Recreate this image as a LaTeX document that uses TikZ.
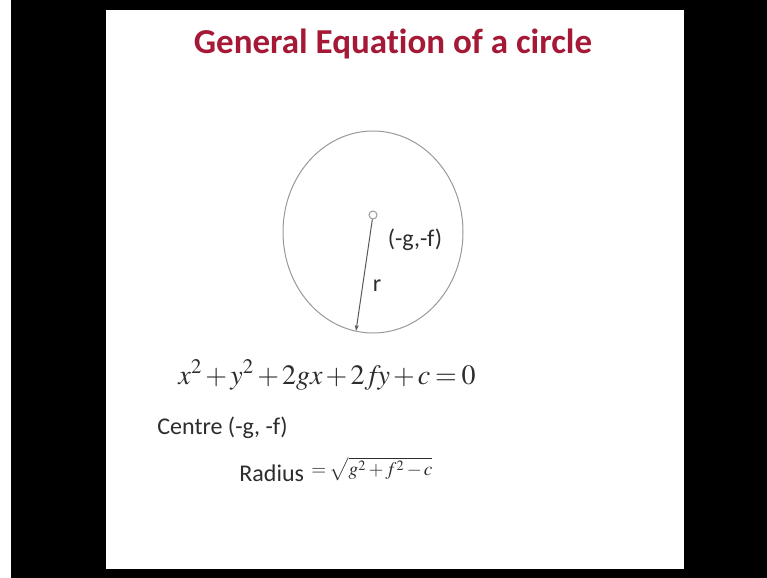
\documentclass[tikz,border=0pt]{standalone}
\usepackage{fontspec}
\usepackage{mathptmx}
\setmainfont{Carlito}[Ligatures=NoCommon]
\usetikzlibrary{arrows.meta}
\definecolor{TitleRed}{RGB}{165,25,55}
\definecolor{SlideInk}{RGB}{45,45,45}
\newcommand{\tightmath}{\medmuskip=2mu\relax\thickmuskip=3mu\relax}

\begin{document}
\begin{tikzpicture}[
  x=0.5pt, y=-0.5pt,
  >=Stealth,
  title/.style={font=\bfseries\fontsize{17.5}{20}\selectfont, text=TitleRed, inner sep=0pt},
  lbl/.style={font=\fontsize{12}{14}\selectfont, text=SlideInk, inner sep=0pt},
  eqn/.style={font=\fontsize{14}{16}\selectfont, text=SlideInk, inner sep=0pt},
  small eqn/.style={font=\fontsize{9.6}{11}\selectfont, text=SlideInk, inner sep=0pt},
  rim/.style={draw=gray!80, line width=0.5pt},
  dot/.style={circle, draw=gray!80, fill=white, line width=0.5pt, minimum size=4pt, inner sep=0pt},
]
  \useasboundingbox (0,0) rectangle (767,578);

  % frame
  \fill[white] (0,0) rectangle (767,578);
  \fill[black] (11,0) rectangle (767,578);
  \fill[white] (106,10) rectangle (684,569);

  % title
  \node[title] (heading) at (393,44) {General Equation of a circle};

  % circle with centre and radius
  \draw[rim] (373,232) ellipse [x radius=45pt, y radius=50.5pt];
  \node[dot] (centre) at (373,215) {};
  \coordinate (edge) at (356,331);
  \draw[gray!70!black, line width=0.5pt, -{Stealth[length=3pt, width=2pt]}] (centre) -- (edge);
  \node[lbl] (coords) at (415,240) {(-g,-f)};
  \node[lbl] (rlabel) at (377,286) {r};

  % equation and results
  \node[eqn] (equation) at (327,375) {$\tightmath x^2+y^2+2gx+2f\!y+c=0$};
  \node[lbl, anchor=west] (centretxt) at (157,428) {Centre (-g, -f)};
  \node[lbl, anchor=west] (radiustxt) at (239,473) {Radius};
  \node[small eqn, anchor=west] (radiusval) at (311,469) {$\tightmath =\sqrt{g^2+f^2-c}$};
\end{tikzpicture}
\end{document}
